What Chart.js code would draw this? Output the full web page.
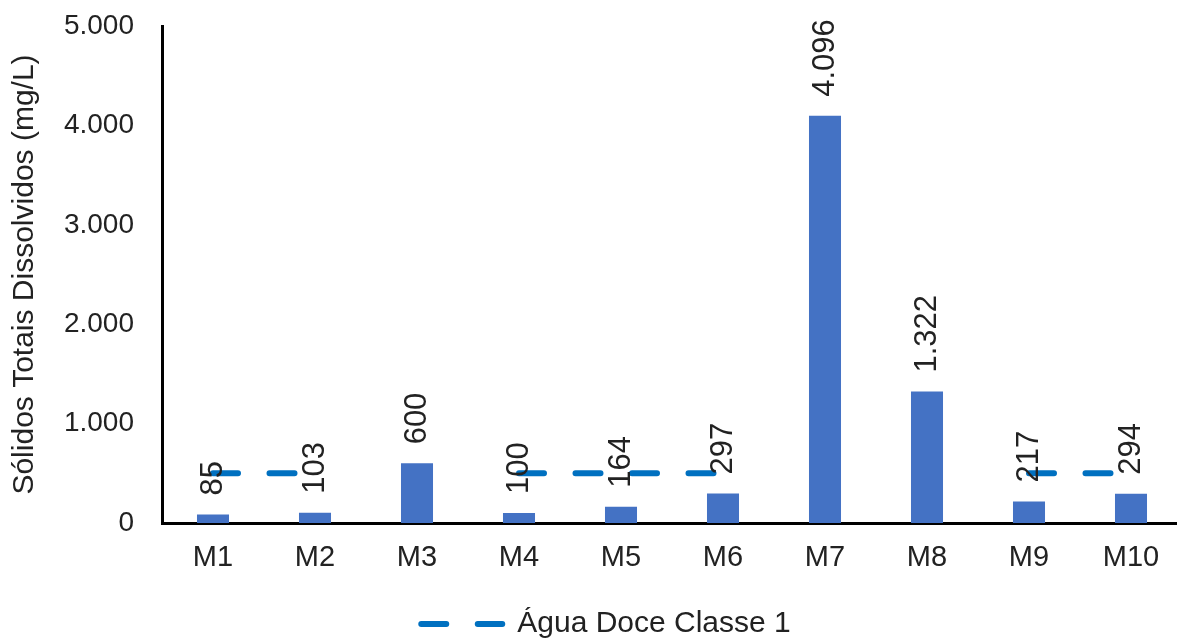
<!DOCTYPE html>
<html>
<head>
<meta charset="utf-8">
<script src="https://cdn.jsdelivr.net/npm/chart.js@4"></script>
<style>
  html, body { margin: 0; padding: 0; background: #fff; overflow: hidden; }
  #wrap { width: 1183px; height: 641px; position: relative; }
</style>
</head>
<body>
<div id="wrap"><canvas id="c"></canvas></div>
<script>
// Sampling points
const categories = ['M1', 'M2', 'M3', 'M4', 'M5', 'M6', 'M7', 'M8', 'M9', 'M10'];
// Total dissolved solids per point (mg/L)
const solidos = [85, 103, 600, 100, 164, 297, 4096, 1322, 217, 294];
// Fresh water class 1 limit (500 mg/L), broken where no reference is drawn
const limiteClasse1 = [500, 500, null, 500, 500, 500, null, null, 500, 500];
// Y axis ticks
const yTicks = [0, 1000, 2000, 3000, 4000, 5000];

const FONT = '"Liberation Sans", Arial, sans-serif';
const TEXT = '#222';

// pt-BR thousands separator
function fmt(v) {
  return String(v).replace(/\B(?=(\d{3})+(?!\d))/g, '.');
}

// Rotated value labels above each bar
const valueLabels = {
  id: 'valueLabels',
  afterDatasetsDraw(chart) {
    const meta = chart.getDatasetMeta(0);
    const ctx = chart.ctx;
    ctx.save();
    ctx.font = '31px ' + FONT;
    ctx.fillStyle = TEXT;
    ctx.textAlign = 'left';
    ctx.textBaseline = 'middle';
    meta.data.forEach((bar, i) => {
      ctx.save();
      ctx.translate(bar.x, bar.y - 19);
      ctx.rotate(-Math.PI / 2);
      ctx.fillText(fmt(solidos[i]), 0, 0);
      ctx.restore();
    });
    ctx.restore();
  }
};

// Nudge the legend a little to the right of the canvas centre
const legendShift = {
  id: 'legendShift',
  afterLayout(chart) {
    const l = chart.legend;
    if (l) { l.left += 15; l.right += 15; }
  }
};

new Chart(document.getElementById('c'), {
  type: 'bar',
  data: {
    labels: categories,
    datasets: [
      {
        type: 'bar',
        label: 'Sólidos Totais Dissolvidos',
        data: solidos,
        backgroundColor: '#4472C4',
        borderWidth: 0,
        categoryPercentage: 1,
        barPercentage: 0.314,
        order: 1
      },
      {
        type: 'line',
        label: 'Água Doce Classe 1',
        data: limiteClasse1,
        borderColor: '#0070C0',
        backgroundColor: '#0070C0',
        borderWidth: 6,
        borderDash: [25, 31.5],
        borderCapStyle: 'round',
        pointRadius: 0,
        pointHoverRadius: 0,
        pointStyle: 'line',
        fill: false,
        tension: 0,
        spanGaps: false,
        order: 0
      }
    ]
  },
  options: {
    responsive: true,
    maintainAspectRatio: false,
    animation: false,
    events: [],
    layout: { padding: { top: 26, right: 1, left: 0, bottom: -8 } },
    plugins: {
      tooltip: { enabled: false },
      legend: {
        position: 'bottom',
        labels: {
          usePointStyle: true,
          pointStyleWidth: 81,
          padding: 2,
          color: TEXT,
          font: { family: FONT, size: 30 },
          generateLabels(chart) {
            const ds = chart.data.datasets[1];
            return [{
              text: ds.label,
              datasetIndex: 1,
              hidden: false,
              fillStyle: ds.borderColor,
              strokeStyle: ds.borderColor,
              fontColor: TEXT,
              lineWidth: ds.borderWidth,
              lineDash: ds.borderDash,
              lineCap: ds.borderCapStyle,
              pointStyle: 'line',
              rotation: 0
            }];
          }
        }
      }
    },
    scales: {
      x: {
        grid: { display: false, drawTicks: false },
        border: { display: true, color: '#000', width: 3 },
        ticks: { color: TEXT, font: { family: FONT, size: 29 }, padding: 18, maxRotation: 0 },
        afterFit(scale) { scale.height = 84; }
      },
      y: {
        min: 0,
        max: 5000,
        grid: { display: false, drawTicks: true, tickLength: 28 },
        border: { display: true, color: '#000', width: 3 },
        afterBuildTicks(scale) { scale.ticks = yTicks.map(v => ({ value: v })); },
        ticks: {
          color: TEXT,
          font: { family: FONT, size: 28 },
          padding: 0,
          callback: (v) => fmt(v)
        },
        title: {
          display: true,
          text: 'Sólidos Totais Dissolvidos (mg/L)',
          color: TEXT,
          font: { family: FONT, size: 30 },
          padding: { top: 7, bottom: 0 }
        },
        afterFit(scale) { scale.width = 162; }
      }
    }
  },
  plugins: [valueLabels, legendShift]
});
</script>
</body>
</html>
